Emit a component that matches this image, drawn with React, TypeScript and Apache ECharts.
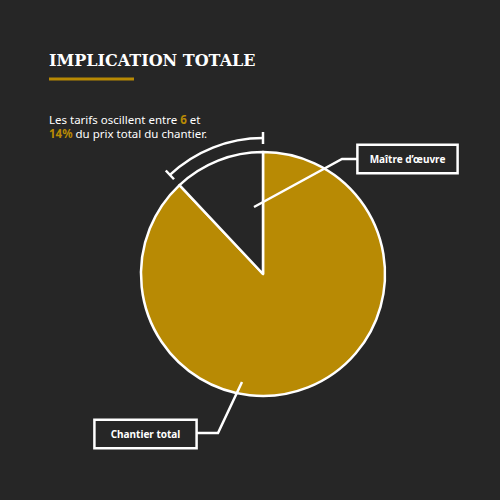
import React, { useEffect, useRef } from "react";
import * as echarts from "echarts";

const BG = "#262626";
const GOLD = "#b88a04";

const sliceNames = ["Chantier total", "Maître d’œuvre"];
const sliceValues = [88, 12];
const sliceColors = [GOLD, BG];
const introLines = ["Les tarifs oscillent entre {g|6} et", "{g|14%} du prix total du chantier."];

// label boxes: centre of box, side padding, leader line points, by data index
const labelBoxes = [
  { x: 145.5, y: 434, pad: 15, line: [[242, 382], [218, 433], [196, 433]] },
  { x: 407.5, y: 159, pad: 11, line: [[254, 207], [342, 159], [358, 159]] },
];

const CX = 263;
const CY = 274;
const R = 122;
const BRACKET_R = 136;

const App: React.FC = () => {
  const chartRef = useRef<HTMLDivElement>(null);

  useEffect(() => {
    const chart = echarts.init(chartRef.current!, null, { renderer: "svg" });

    const total = sliceValues.reduce((a, b) => a + b, 0);
    const sweep = (sliceValues[1] / total) * Math.PI * 2;
    const a0 = -Math.PI / 2 - sweep;
    const a1 = -Math.PI / 2;
    const cap = (a: number) => ({
      type: "line",
      shape: {
        x1: CX + (BRACKET_R - 6) * Math.cos(a),
        y1: CY + (BRACKET_R - 6) * Math.sin(a),
        x2: CX + (BRACKET_R + 6) * Math.cos(a),
        y2: CY + (BRACKET_R + 6) * Math.sin(a),
      },
      style: { stroke: "#fff", lineWidth: 2.5 },
    });

    chart.setOption({
      animation: false,
      backgroundColor: BG,
      title: [
        {
          text: "IMPLICATION TOTALE",
          left: 49,
          top: 52,
          padding: 0,
          textStyle: {
            color: "#fff",
            fontFamily: "DejaVu Serif",
            fontWeight: "bold",
            fontSize: 16,
          },
        },
        {
          text: introLines.join("\n"),
          left: 49,
          top: 112,
          padding: 0,
          textStyle: {
            color: "#fff",
            fontFamily: "Noto Sans",
            fontWeight: "normal",
            fontSize: 11.5,
            lineHeight: 14,
            rich: {
              g: { color: GOLD, fontWeight: "bold", fontFamily: "Noto Sans", fontSize: 11.5, lineHeight: 14 },
            },
          },
        },
      ],
      graphic: [
        { type: "rect", shape: { x: 49, y: 77.5, width: 85, height: 3 }, style: { fill: GOLD } },
        {
          type: "arc",
          shape: { cx: CX, cy: CY, r: BRACKET_R, startAngle: a0, endAngle: a1, clockwise: true },
          style: { stroke: "#fff", lineWidth: 2.5, fill: "none" },
        },
        cap(a0),
        cap(a1),
        ...labelBoxes.map((b) => ({
          type: "polyline",
          z: 10,
          shape: { points: b.line },
          style: { stroke: "#fff", lineWidth: 2.5, fill: "none" },
        })),
      ],
      series: [
        {
          type: "pie",
          center: [CX, CY],
          radius: R,
          startAngle: 90,
          clockwise: true,
          silent: true,
          data: sliceNames.map((name, i) => ({
            name,
            value: sliceValues[i],
            itemStyle: { color: sliceColors[i] },
            label: { padding: [8, labelBoxes[i].pad] },
          })),
          itemStyle: { borderColor: "#fff", borderWidth: 2.5 },
          label: {
            show: true,
            position: "outside",
            formatter: "{b}",
            color: "#fff",
            fontFamily: "Noto Sans",
            fontWeight: "bold",
            fontSize: 10,
            backgroundColor: BG,
            borderColor: "#fff",
            borderWidth: 2.5,
          },
          labelLine: { show: false },
          labelLayout: (p: any) => {
            const b = labelBoxes[p.dataIndex];
            return { x: b.x, y: b.y, align: "center", verticalAlign: "middle" };
          },
        },
      ],
    });

    return () => chart.dispose();
  }, []);

  return (
    <div
      ref={chartRef}
      style={{ position: "fixed", left: 0, top: 0, width: 500, height: 500, background: BG }}
    />
  );
};

export default App;
